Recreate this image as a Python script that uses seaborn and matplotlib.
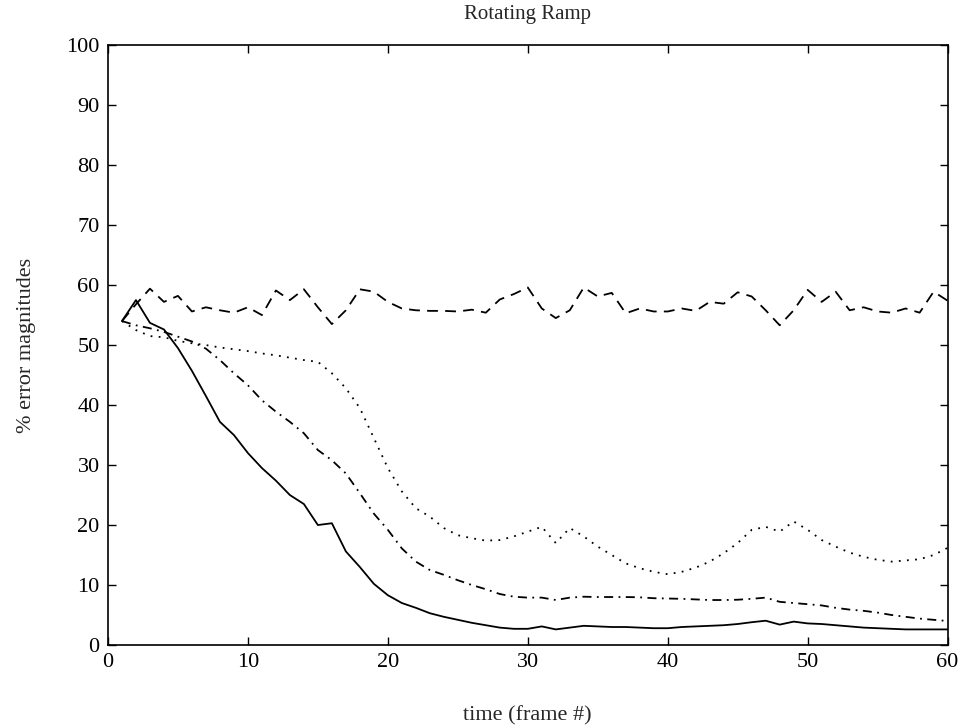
import numpy as np
import pandas as pd
import matplotlib.pyplot as plt
import seaborn as sns

frames = list(range(1, 61))

solid = [54.0, 57.5, 53.7, 52.6, 49.5, 45.7, 41.5, 37.2, 35.0, 32.0,
         29.5, 27.4, 25.0, 23.5, 20.0, 20.3, 15.6, 13.0, 10.2, 8.3,
         7.0, 6.2, 5.3, 4.7, 4.2, 3.7, 3.3, 2.9, 2.7, 2.7,
         3.1, 2.6, 2.9, 3.2, 3.1, 3.0, 3.0, 2.9, 2.8, 2.8,
         3.0, 3.1, 3.2, 3.3, 3.5, 3.8, 4.05, 3.4, 3.9, 3.6,
         3.5, 3.3, 3.1, 2.9, 2.8, 2.7, 2.6, 2.6, 2.6, 2.6]

dashed = [54.0, 56.8, 59.4, 57.2, 58.2, 55.6, 56.3, 55.8, 55.4, 56.3,
          55.0, 59.1, 57.5, 59.3, 56.3, 53.5, 55.8, 59.3, 58.9, 57.2,
          56.1, 55.8, 55.7, 55.7, 55.6, 55.9, 55.4, 57.6, 58.5, 59.6,
          56.1, 54.5, 55.8, 59.6, 58.1, 58.7, 55.3, 56.1, 55.6, 55.6,
          56.1, 55.7, 57.2, 56.9, 58.8, 58.1, 55.8, 53.3, 55.8, 59.2,
          57.2, 58.9, 55.8, 56.3, 55.6, 55.4, 56.1, 55.4, 58.9, 57.4]

dotted = [54.0, 52.5, 51.5, 51.3, 50.7, 50.3, 50.0, 49.6, 49.3, 49.0,
          48.6, 48.3, 47.9, 47.5, 47.2, 45.3, 42.8, 39.5, 34.5, 29.5,
          25.6, 22.8, 21.4, 19.5, 18.3, 17.8, 17.4, 17.5, 18.1, 18.9,
          19.7, 17.0, 19.5, 18.1, 16.4, 15.0, 13.6, 12.8, 12.2, 11.8,
          12.2, 12.9, 13.9, 15.3, 17.0, 19.2, 19.7, 18.9, 20.6, 19.2,
          17.5, 16.4, 15.4, 14.7, 14.2, 13.9, 14.1, 14.3, 15.0, 16.2]

dashdot = [54.0, 53.3, 52.8, 52.2, 51.4, 50.6, 49.4, 47.5, 45.3, 43.3,
           40.8, 38.9, 37.2, 35.3, 32.5, 30.8, 28.6, 25.3, 21.9, 19.2,
           16.1, 13.9, 12.5, 11.7, 10.8, 10.0, 9.3, 8.5, 8.05, 7.9,
           7.9, 7.5, 7.9, 8.05, 8.0, 8.0, 8.0, 7.95, 7.8, 7.75,
           7.7, 7.6, 7.5, 7.5, 7.55, 7.7, 7.9, 7.2, 7.0, 6.8,
           6.6, 6.2, 5.9, 5.7, 5.4, 5.0, 4.7, 4.4, 4.2, 4.0]

sns.set_style("ticks")
plt.rcParams['font.family'] = ['Liberation Serif', 'DejaVu Serif']
plt.rcParams['xtick.direction'] = 'in'
plt.rcParams['ytick.direction'] = 'in'

fig = plt.figure(figsize=(9.64, 7.28), dpi=100)
ax = fig.add_axes([0.112, 0.114, 0.871, 0.824])

styles = [(solid, '-'), (dashed, (0, (6, 4))), (dotted, (0, (1, 3.5))),
          (dashdot, (0, (5, 3, 1, 3)))]
for vals, ls in styles:
    sns.lineplot(x=frames, y=vals, ax=ax, color='black', linewidth=1.3,
                 linestyle=ls)

ax.set_xlim(0, 60)
ax.set_ylim(0, 100)
ax.set_xticks(range(0, 61, 10))
ax.set_yticks(range(0, 101, 10))
ax.tick_params(top=True, right=True, labelsize=16, length=6, width=1,
               colors='black', pad=6)
for s in ax.spines.values():
    s.set_linewidth(1.2)
    s.set_color('black')

ax.set_title("Rotating Ramp", fontsize=15, pad=19)
ax.set_xlabel("time (frame #)", fontsize=16, labelpad=24)
ax.set_ylabel("% error magnitudes", fontsize=16, labelpad=22)

plt.savefig("out.png", dpi=100)
plt.close()
